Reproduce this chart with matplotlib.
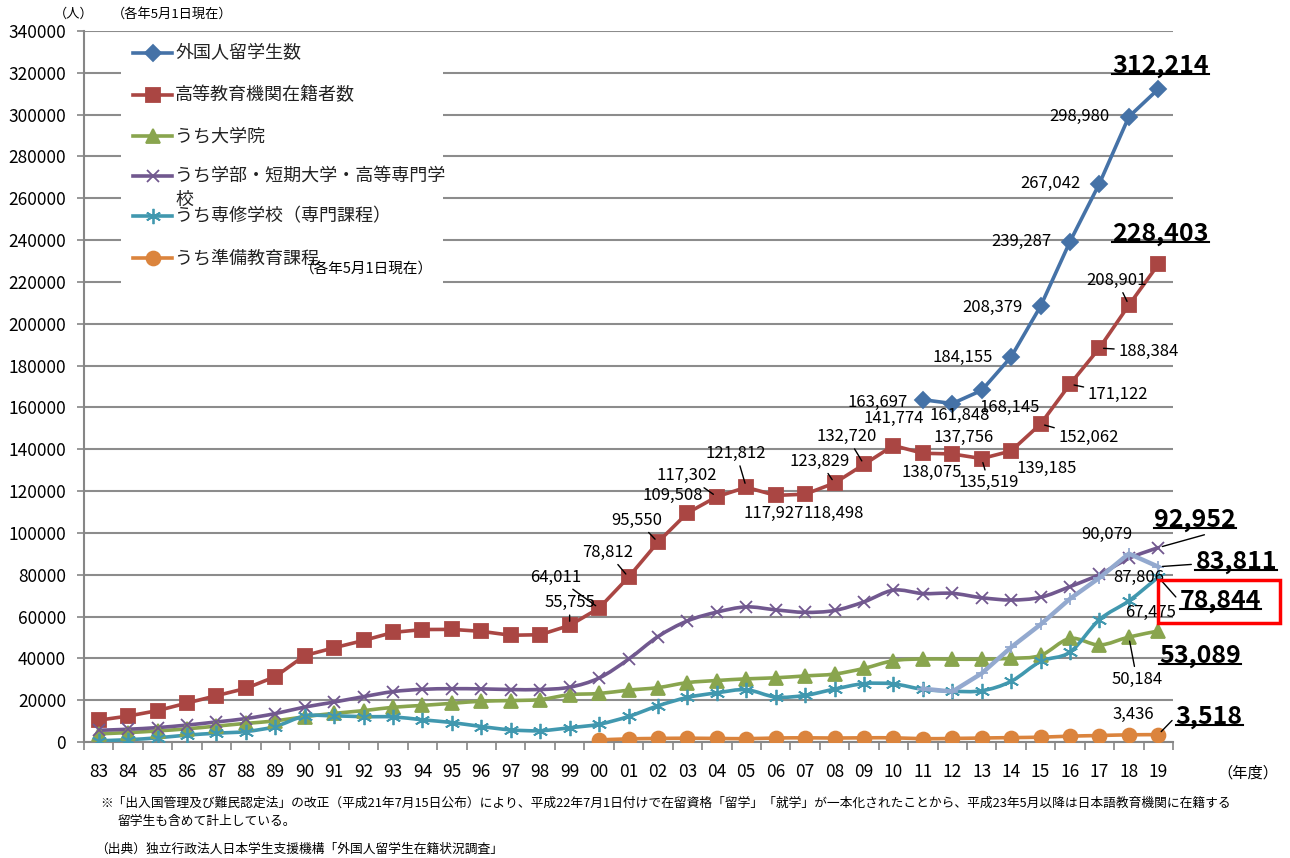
import matplotlib
matplotlib.use("Agg")
import matplotlib.pyplot as plt
import matplotlib.text as mtext
import numpy as np
from matplotlib.path import Path
from matplotlib.patches import PathPatch, Rectangle
from matplotlib.lines import Line2D

plt.rcParams["font.family"] = ["Noto Sans CJK JP", "DejaVu Sans"]

nan = np.nan

# --- data ---
years = ["83", "84", "85", "86", "87", "88", "89", "90", "91", "92", "93", "94",
         "95", "96", "97", "98", "99", "00", "01", "02", "03", "04", "05", "06",
         "07", "08", "09", "10", "11", "12", "13", "14", "15", "16", "17", "18", "19"]

total = [nan] * 28 + [163697, 161848, 168145, 184155, 208379, 239287, 267042,
                      298980, 312214]
higher = [10428, 12410, 15009, 18631, 22154, 25643, 31251, 41347, 45066, 48561,
          52405, 53787, 53847, 52921, 51047, 51298, 55755, 64011, 78812, 95550,
          109508, 117302, 121812, 117927, 118498, 123829, 132720, 141774, 138075,
          137756, 135519, 139185, 152062, 171122, 188384, 208901, 228403]
graduate = [3900, 4500, 5300, 6300, 7600, 8900, 10100, 12100, 13700, 15000, 16600,
            17500, 18500, 19500, 19800, 20300, 22600, 23200, 24800, 26000, 28400,
            29400, 30200, 30700, 31600, 32500, 35200, 38900, 39700, 39600, 39600,
            40000, 41400, 49500, 46400, 50184, 53089]
undergrad = [5600, 6100, 6900, 8100, 9600, 11200, 13600, 16700, 19100, 21700, 24100,
             25200, 25500, 25400, 25100, 25100, 26200, 30600, 39600, 50400, 57900,
             62100, 64600, 63200, 62000, 62900, 67000, 72600, 71000, 71100, 69000,
             67900, 69200, 74300, 80100, 87806, 92952]
senshu = [600, 1100, 2000, 3300, 4200, 5000, 7400, 12400, 12500, 12100, 12000,
          10600, 9300, 7400, 5800, 5400, 6800, 8500, 12200, 17300, 21300, 23500,
          25000, 21500, 22300, 25300, 27900, 27800, 25200, 24300, 24500, 29000,
          38500, 43000, 58500, 67475, 78844]
nihongo = [nan] * 28 + [25500, 24100, 32800, 45300, 56200, 68500, 78500, 90079, 83811]
junbi = [nan] * 17 + [1000, 1500, 1700, 1800, 1700, 1600, 1900, 2000, 1900, 2000,
                      2000, 1600, 1700, 1900, 2100, 2300, 2800, 3100, 3436, 3518]

legend_labels = ["外国人留学生数", "高等教育機関在籍者数", "うち大学院",
                 "うち学部・短期大学・高等専門学", "うち専修学校（専門課程）", "うち準備教育課程"]

W, H = 1290, 858
fig = plt.figure(figsize=(12.9, 8.58), dpi=100)
ax = fig.add_axes([84 / W, 1 - 742 / H, (1173 - 84) / W, (742 - 31) / H])


def fx(px):
    return px / W


def fy(py):
    return 1 - py / H


def smooth_path(xs, ys):
    pts = [(a, b) for a, b in zip(xs, ys) if not np.isnan(b)]
    pts = np.array(pts, dtype=float)
    n = len(pts)
    verts = [pts[0]]
    codes = [Path.MOVETO]
    for i in range(n - 1):
        p0 = pts[i - 1] if i > 0 else pts[i]
        p1, p2 = pts[i], pts[i + 1]
        p3 = pts[i + 2] if i + 2 < n else p2
        verts += [p1 + (p2 - p0) / 6, p2 - (p3 - p1) / 6, p2]
        codes += [Path.CURVE4] * 3
    return Path(verts, codes)


x = np.arange(len(years))
asterisk = (6, 2, 0)

series = [
    # values, color, marker, markersize, linewidth, smooth
    (total, "#4572A7", "D", 8, 2.6, False),
    (higher, "#AA4643", "s", 10, 2.6, False),
    (graduate, "#89A54E", "^", 10, 2.6, True),
    (undergrad, "#71588F", "x", 9, 2.6, True),
    (senshu, "#4198AF", asterisk, 11, 2.6, True),
    (junbi, "#DB843D", "o", 10, 2.6, True),
    (nihongo, "#93A9CF", "+", 9, 3.2, False),
]

for vals, col, mk, ms, lw, smooth in series:
    vals = np.array(vals, dtype=float)
    if smooth:
        ax.add_patch(PathPatch(smooth_path(x, vals), fill=False, edgecolor=col,
                               lw=lw, zorder=3, capstyle="round"))
        ax.plot(x, vals, linestyle="none", marker=mk, ms=ms, color=col,
                mew=1.3, zorder=4)
    else:
        ax.plot(x, vals, color=col, lw=lw, marker=mk, ms=ms, mew=1.3, zorder=4)

ax.set_xlim(-0.5, len(years) - 0.5)
ax.set_ylim(0, 340000)
yt = list(range(0, 340001, 20000))
ax.set_yticks(yt)
ax.set_yticklabels([str(v) for v in yt])
ax.set_xticks(x)
ax.set_xticklabels(years)
ax.set_xticks(np.arange(-0.5, len(years)), minor=True)
ax.tick_params(axis="x", which="major", length=0, labelsize=12.5, pad=15)
ax.tick_params(axis="x", which="minor", length=6, width=1.2, color="#868686")
ax.tick_params(axis="y", length=5, width=1.2, color="#868686", labelsize=12.5, pad=8)
for s in ["top", "right"]:
    ax.spines[s].set_visible(False)
for s in ["left", "bottom"]:
    ax.spines[s].set_color("#868686")
    ax.spines[s].set_linewidth(1.5)
ax.yaxis.grid(True, color="#8c8c8c", lw=1.5)
ax.set_axisbelow(True)

# --- data labels ---
big_texts = []


def label(vals, i, dx, dy, leader=False, big=False, relpos=(0.5, 0.5)):
    v = vals[i]
    txt = f"{int(v):,}"
    kw = dict(fontsize=18, fontweight="bold") if big else dict(fontsize=12)
    arrow = None
    if leader:
        arrow = dict(arrowstyle="-", color="black", lw=1, shrinkA=1, shrinkB=3,
                     relpos=relpos)
    t = ax.annotate(txt, xy=(i, v), xytext=(dx, -dy), textcoords="offset pixels",
                    ha="center", va="center", arrowprops=arrow, zorder=6, **kw)
    if big:
        big_texts.append(t)


for i, dx, dy in [(28, -45, 3), (29, 7, 12), (30, 28, 17), (31, -48, 1),
                  (32, -48, 1), (33, -49, 0), (34, -49, 0), (35, -49, 0)]:
    label(total, i, dx, dy)
label(total, 36, 2, -23, big=True)

red_labels = [(16, 0, -23, True), (17, -43, -31, True), (18, -21, -25, True),
              (19, -21, -22, True), (20, -15, -18, False), (21, -30, -21, True),
              (22, -10, -34, True), (23, -2, 18, False), (24, 29, 19, False),
              (25, -15, -22, True), (26, -17, -28, True), (27, 0, -27, False),
              (28, 9, 19, False), (29, 11, -16, False), (30, 7, 24, True),
              (31, 36, 18, False), (32, 48, 13, True), (33, 48, 10, True),
              (34, 49, 3, True), (35, -12, -25, True)]
for i, dx, dy, ld in red_labels:
    label(higher, i, dx, dy, leader=ld)
label(higher, 36, 2, -30, big=True)

label(undergrad, 35, 10, 19)
label(undergrad, 36, 37, -28, leader=True, big=True, relpos=(0.75, 0))
label(nihongo, 35, -22, -19)
label(nihongo, 36, 78, -5, leader=True, big=True, relpos=(0, 0.4))
label(senshu, 35, 22, 12)
label(senshu, 36, 62, 24, leader=True, big=True, relpos=(0, 0.5))
label(graduate, 35, 8, 42, leader=True)
label(graduate, 36, 42, 25, big=True)
label(junbi, 35, 4, -20)
label(junbi, 36, 51, -18, leader=True, big=True, relpos=(0, 0.5))

# --- legend (drawn by hand, white box over the grid) ---
fig.add_artist(Rectangle((fx(121), fy(290)), (443 - 121) / W, (290 - 38) / H,
                         facecolor="white", edgecolor="none", zorder=1))
leg_y = [53, 95, 136, 176, 216, 258]
for (vals, col, mk, ms, lw, _), lab, yy in zip(series[:6], legend_labels, leg_y):
    fig.add_artist(Line2D([fx(133), fx(172)], [fy(yy), fy(yy)], color=col, lw=lw,
                          zorder=2))
    fig.add_artist(Line2D([fx(152.5)], [fy(yy)], marker=mk, ms=ms, mew=1.3,
                          color=col, zorder=3))
    fig.text(fx(175), fy(yy), lab, fontsize=13, va="center", ha="left",
             color="#222222", zorder=4)
fig.text(fx(175), fy(200), "校", fontsize=13, va="center", ha="left",
         color="#222222", zorder=4)
fig.text(fx(366), fy(270), "（各年5月1日現在）", fontsize=10.5, va="center",
         ha="center", zorder=4)

# --- other texts ---
fig.text(fx(74), fy(14), "（人）", fontsize=9.5, ha="center", va="center")
fig.text(fx(172), fy(14), "（各年5月1日現在）", fontsize=9.5, ha="center", va="center")
fig.text(fx(1248), fy(773), "（年度）", fontsize=11, ha="center", va="center")
fig.text(fx(100), fy(803),
         "※「出入国管理及び難民認定法」の改正（平成21年7月15日公布）により、平成22年7月1日付けで"
         "在留資格「留学」「就学」が一本化されたことから、平成23年5月以降は日本語教育機関に在籍する",
         fontsize=9.2, ha="left", va="center")
fig.text(fx(117), fy(822), "留学生も含めて計上している。", fontsize=9.2, ha="left",
         va="center")
fig.text(fx(95), fy(849), "（出典）独立行政法人日本学生支援機構「外国人留学生在籍状況調査」",
         fontsize=9.2, ha="left", va="center")

# red box around 78,844
fig.add_artist(Rectangle((fx(1158), fy(623)), (1280 - 1158) / W, (623 - 580) / H,
                         fill=False, edgecolor="#FF0000", lw=2.5, zorder=5))

# underline the big labels (text box only, not the leader line)
fig.canvas.draw()
rend = fig.canvas.get_renderer()
for t in big_texts:
    bb = mtext.Text.get_window_extent(t, rend)
    yline = (bb.y0 + 4) / H
    fig.add_artist(Line2D([bb.x0 / W, bb.x1 / W], [yline, yline], color="black",
                          lw=1.5, zorder=6))

fig.savefig("out.png", dpi=100)
